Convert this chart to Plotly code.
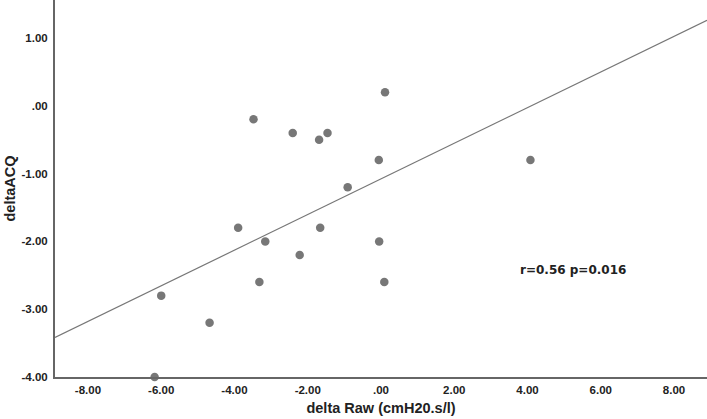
import numpy as np
import plotly.graph_objects as go

# delta Raw (cmH20.s/l) vs deltaACQ
delta_raw = [0.11, -3.48, -2.41, -1.69, -1.46, -0.06, -0.91, -3.90, -1.66,
             -3.16, -0.05, -2.22, -6.00, -4.68, -3.32, 0.09, -6.18, 4.08]
delta_acq = [0.2, -0.2, -0.4, -0.5, -0.4, -0.8, -1.2, -1.8, -1.8,
             -2.0, -2.0, -2.2, -2.8, -3.2, -2.6, -2.6, -4.0, -0.8]

x_ticks = [-8, -6, -4, -2, 0, 2, 4, 6, 8]
x_ticklabels = ["-8.00", "-6.00", "-4.00", "-2.00", ".00", "2.00", "4.00", "6.00", "8.00"]
y_ticks = [1, 0, -1, -2, -3, -4]
y_ticklabels = ["1.00", ".00", "-1.00", "-2.00", "-3.00", "-4.00"]

stats_text = "r=0.56 p=0.016"

x_range = [-8.9, 8.9]
y_range = [-4.0, 1.56]

# least squares fit line across the whole x range
slope, intercept = np.polyfit(delta_raw, delta_acq, 1)
fit_x = np.array(x_range)
fit_y = slope * fit_x + intercept

grey = "#777777"
tick_font = dict(family="Liberation Sans, Arial", size=11.5, color="#222222", weight="bold")
title_font = dict(family="Liberation Sans, Arial", size=14.5, color="#222222", weight="bold")

fig = go.Figure()
fig.add_trace(go.Scatter(x=fit_x, y=fit_y, mode="lines",
                         line=dict(color=grey, width=1.2), hoverinfo="skip"))
fig.add_trace(go.Scatter(x=delta_raw, y=delta_acq, mode="markers",
                         marker=dict(color=grey, size=8.5), cliponaxis=False))

fig.add_annotation(x=5.25, y=-2.42, text=stats_text, showarrow=False,
                   font=dict(family="DejaVu Sans", size=12, color="#222222", weight="bold"))

fig.update_layout(
    width=707, height=419,
    margin=dict(l=55, r=0, t=0, b=42),
    paper_bgcolor="white", plot_bgcolor="white",
    showlegend=False,
    xaxis=dict(range=x_range, tickvals=x_ticks, ticktext=x_ticklabels,
               showgrid=False, zeroline=False, showline=True, linecolor="#666666", linewidth=2,
               ticks="", tickfont=tick_font, ticklabelstandoff=1,
               title=dict(text="delta Raw (cmH20.s/l)", font=title_font, standoff=8)),
    yaxis=dict(range=y_range, tickvals=y_ticks, ticktext=y_ticklabels,
               showgrid=False, zeroline=False, showline=True, linecolor="#666666", linewidth=2,
               ticks="", tickfont=tick_font, ticklabelstandoff=3,
               title=dict(text="deltaACQ", font=title_font, standoff=2)),
)

# drop the browser's default page margin so the figure sits at the window corner
fig.write_html("out.html", config={"displayModeBar": False},
               post_script="document.body.style.margin='0';")
